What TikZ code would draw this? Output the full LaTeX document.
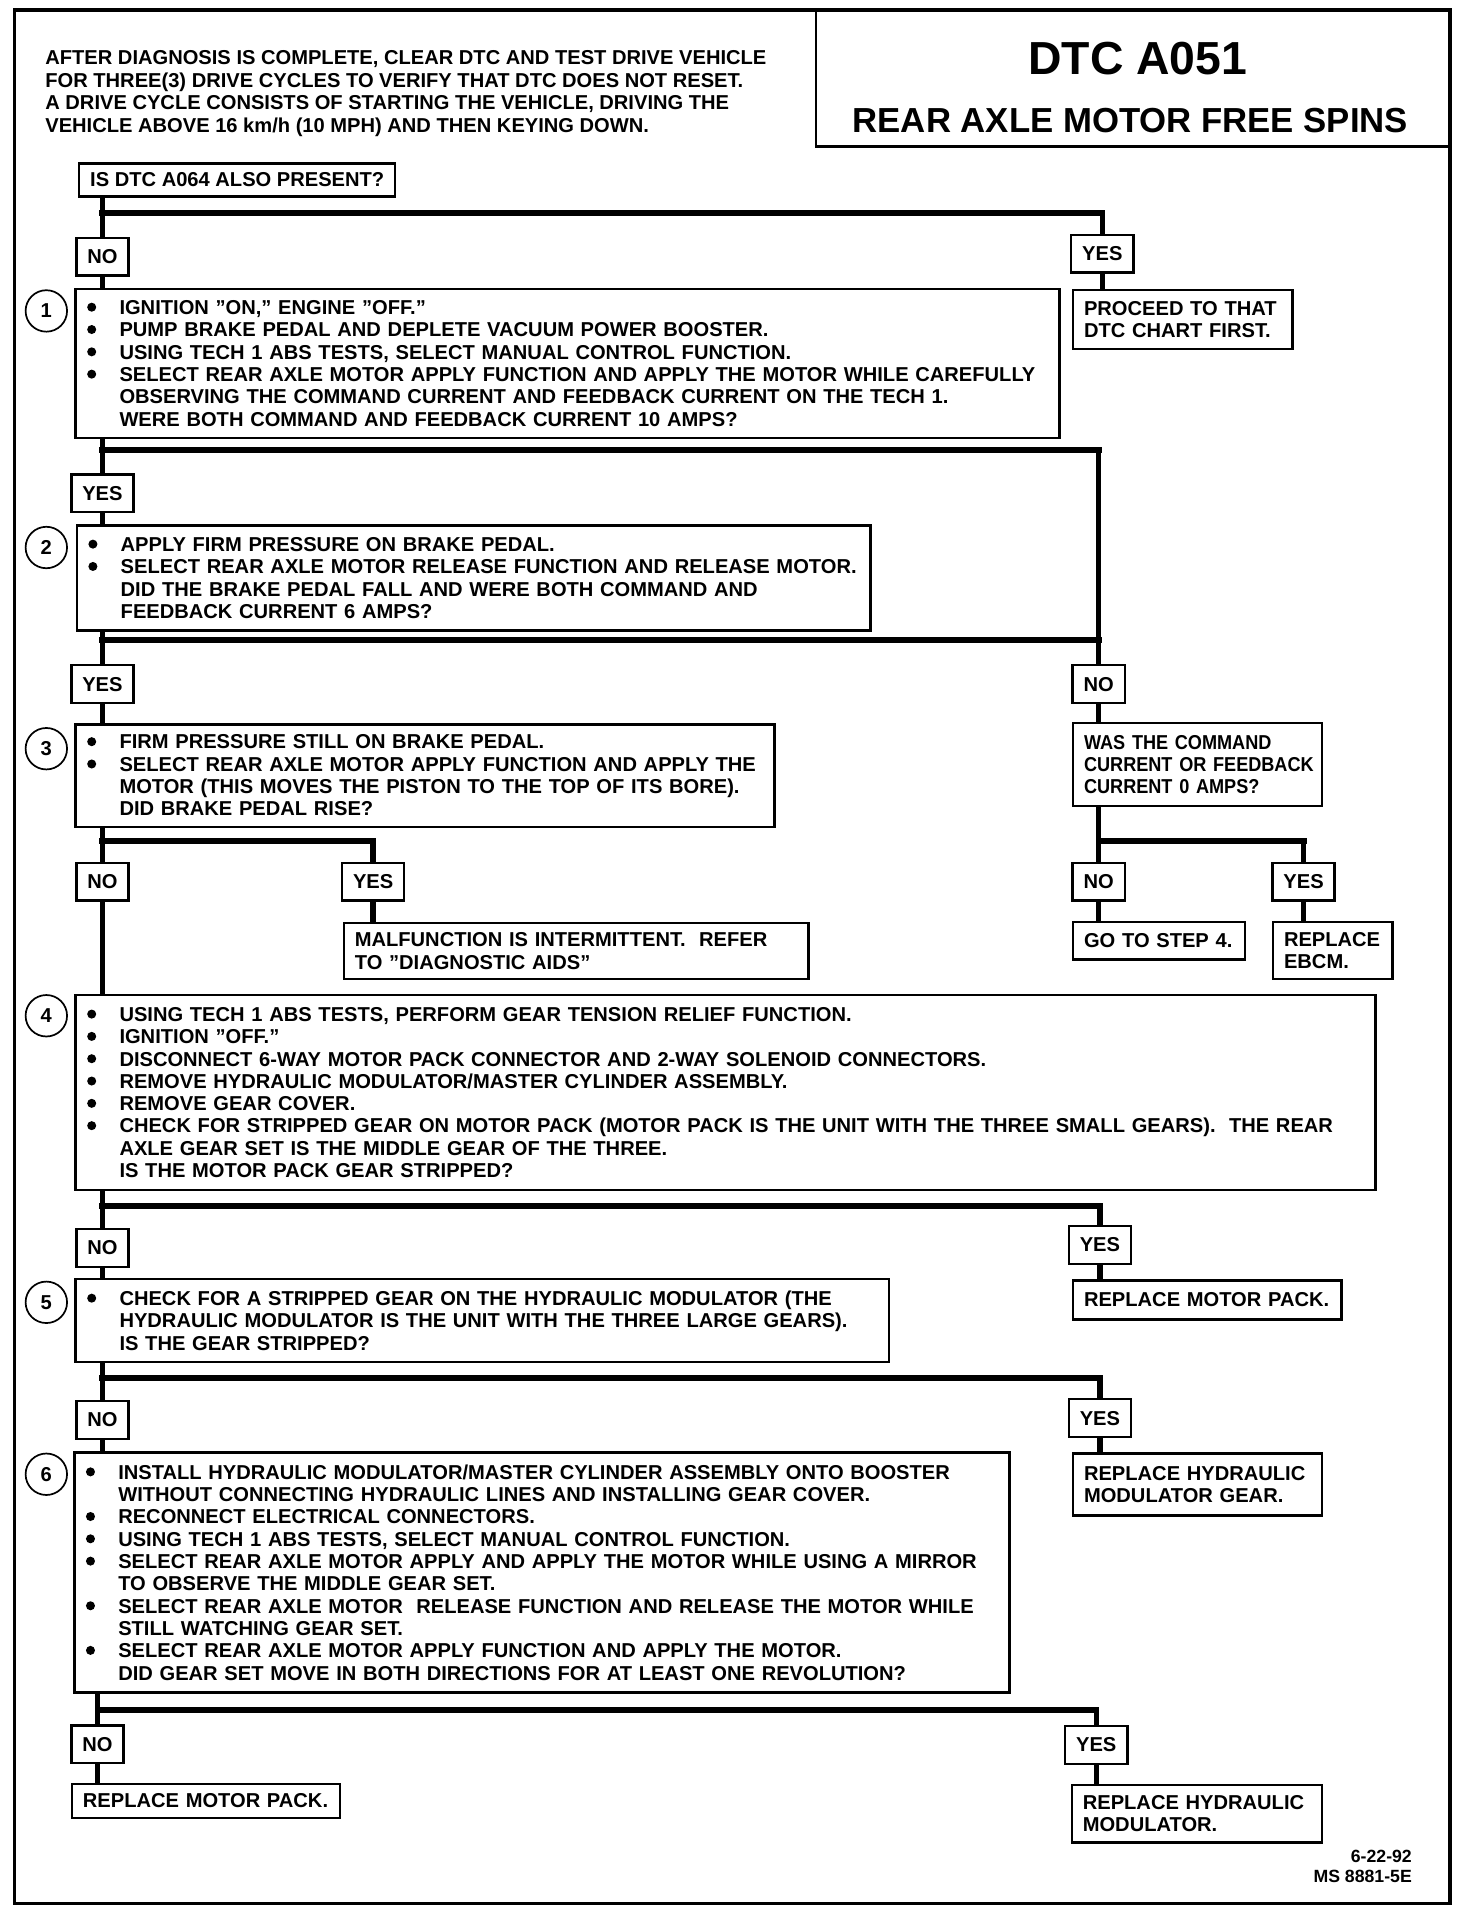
\documentclass[tikz,border=0pt]{standalone}
\usepackage{fontspec}
\setmainfont{Liberation Sans}
\newfontfamily\narrowfont[FakeStretch=0.9]{Liberation Sans Bold}
\usetikzlibrary{positioning}

% one line of a step list, with or without a bullet
\newcommand{\bul}[1]{\makebox[27pt][l]{\hspace{0.5pt}\tikz[baseline=-6pt]\fill (0,0) circle (3.7pt);}\mbox{#1}}
\newcommand{\cont}[1]{\hspace*{27pt}\mbox{#1}}

\begin{document}
\begin{tikzpicture}[
  x=1pt, y=-1pt,
  font=\bfseries\fontsize{16.5pt}{18.3pt}\selectfont,
  stepbox/.style={draw=black, line width=2pt, anchor=north west, align=left, inner xsep=9pt, inner ysep=0pt},
  ansbox/.style={draw=black, line width=2pt, minimum height=31pt, inner xsep=9pt, inner ysep=0pt},
  numcirc/.style={circle, draw=black, line width=1.4pt, minimum size=34pt, inner sep=0pt},
  trunk/.style={line width=4.5pt},
  bar/.style={line width=5pt, line cap=rect}
]
  \useasboundingbox (0,0) rectangle (1207,1568);

  % frame and title
  \draw[line width=3pt] (12,8) rectangle (1189,1561);
  \node (titlebox) [draw=black, line width=2pt, anchor=north west, minimum width=521pt, minimum height=111pt, inner sep=0pt] at (668,8) {};
  \node (dtc) [font=\bfseries\fontsize{38pt}{40pt}\selectfont] at (933,48) {DTC A051};
  \node (ttl) [font=\bfseries\fontsize{28.5pt}{30pt}\selectfont] at (927,99) {REAR AXLE MOTOR FREE SPINS};
  \node (note) [anchor=north west, align=left, inner sep=0pt, font=\bfseries\fontsize{16.5pt}{18.7pt}\selectfont] at (37,41)
    {AFTER DIAGNOSIS IS COMPLETE, CLEAR DTC AND TEST DRIVE VEHICLE\\
     FOR THREE(3) DRIVE CYCLES TO VERIFY THAT DTC DOES NOT RESET.\\
     A DRIVE CYCLE CONSISTS OF STARTING THE VEHICLE, DRIVING THE\\
     VEHICLE ABOVE 16 km/h (10 MPH) AND THEN KEYING DOWN.};

  % first question
  \node (q0) [stepbox, minimum height=27pt] at (64,133) {IS DTC A064 ALSO PRESENT?};
  \node (no0) [ansbox] at (84,210.5) {NO};
  \node (yes0) [ansbox] at (904,208) {YES};
  \node (proceed) [stepbox, text width=162pt, minimum height=48pt] at (879,237) {PROCEED TO THAT\\DTC CHART FIRST.};

  % step 1
  \node (c1) [numcirc] at (38,255) {1};
  \node (box1) [stepbox, text width=789pt, minimum height=122pt] at (61,236)
    {\bul{IGNITION "ON," ENGINE "OFF."}\\
     \bul{PUMP BRAKE PEDAL AND DEPLETE VACUUM POWER BOOSTER.}\\
     \bul{USING TECH 1 ABS TESTS, SELECT MANUAL CONTROL FUNCTION.}\\
     \bul{SELECT REAR AXLE MOTOR APPLY FUNCTION AND APPLY THE MOTOR WHILE CAREFULLY}\\
     \cont{OBSERVING THE COMMAND CURRENT AND FEEDBACK CURRENT ON THE TECH 1.}\\
     \cont{WERE BOTH COMMAND AND FEEDBACK CURRENT 10 AMPS?}};
  \node (yes1) [ansbox] at (84,404.5) {YES};

  % step 2
  \node (c2) [numcirc] at (38,449) {2};
  \node (box2) [stepbox, text width=633pt, minimum height=86pt] at (62,430)
    {\bul{APPLY FIRM PRESSURE ON BRAKE PEDAL.}\\
     \bul{SELECT REAR AXLE MOTOR RELEASE FUNCTION AND RELEASE MOTOR.}\\
     \cont{DID THE BRAKE PEDAL FALL AND WERE BOTH COMMAND AND}\\
     \cont{FEEDBACK CURRENT 6 AMPS?}};
  \node (yes2) [ansbox] at (84,561) {YES};
  \node (no2) [ansbox] at (901,561) {NO};

  % step 3
  \node (c3) [numcirc] at (38,614) {3};
  \node (box3) [stepbox, text width=555pt, minimum height=84pt] at (61,593)
    {\bul{FIRM PRESSURE STILL ON BRAKE PEDAL.}\\
     \bul{SELECT REAR AXLE MOTOR APPLY FUNCTION AND APPLY THE}\\
     \cont{MOTOR (THIS MOVES THE PISTON TO THE TOP OF ITS BORE).}\\
     \cont{DID BRAKE PEDAL RISE?}};
  \node (was) [stepbox, text width=186pt, minimum height=68pt, font=\narrowfont\fontsize{16.5pt}{18.3pt}\selectfont] at (879,592)
    {\mbox{WAS THE COMMAND}\\\mbox{CURRENT OR FEEDBACK}\\\mbox{CURRENT 0 AMPS?}};
  \node (no3) [ansbox] at (84,723) {NO};
  \node (yes3) [ansbox] at (306,723) {YES};
  \node (no3r) [ansbox] at (901,723) {NO};
  \node (yes3r) [ansbox] at (1069,723) {YES};
  \node (malf) [stepbox, text width=363pt, minimum height=46pt] at (281,756)
    {MALFUNCTION IS INTERMITTENT.\ \ REFER\\TO "DIAGNOSTIC AIDS"};
  \node (gostep) [stepbox, text width=123pt, minimum height=31pt] at (879,755) {GO TO STEP 4.};
  \node (ebcm) [stepbox, text width=80pt, minimum height=47pt] at (1043,755) {REPLACE\\EBCM.};

  % step 4
  \node (c4) [numcirc] at (38,833) {4};
  \node (box4) [stepbox, text width=1048pt, minimum height=160pt] at (61,815)
    {\bul{USING TECH 1 ABS TESTS, PERFORM GEAR TENSION RELIEF FUNCTION.}\\
     \bul{IGNITION "OFF."}\\
     \bul{DISCONNECT 6-WAY MOTOR PACK CONNECTOR AND 2-WAY SOLENOID CONNECTORS.}\\
     \bul{REMOVE HYDRAULIC MODULATOR/MASTER CYLINDER ASSEMBLY.}\\
     \bul{REMOVE GEAR COVER.}\\
     \bul{CHECK FOR STRIPPED GEAR ON MOTOR PACK (MOTOR PACK IS THE UNIT WITH THE THREE SMALL GEARS).\ \ THE REAR}\\
     \cont{AXLE GEAR SET IS THE MIDDLE GEAR OF THE THREE.}\\
     \cont{IS THE MOTOR PACK GEAR STRIPPED?}};
  \node (no4) [ansbox] at (84,1023.5) {NO};
  \node (yes4) [ansbox] at (902,1021) {YES};
  \node (repmp) [stepbox, text width=202pt, minimum height=32pt] at (879,1049) {REPLACE MOTOR PACK.};

  % step 5
  \node (c5) [numcirc] at (38,1068) {5};
  \node (box5) [stepbox, text width=649pt, minimum height=68pt] at (61,1048)
    {\bul{CHECK FOR A STRIPPED GEAR ON THE HYDRAULIC MODULATOR (THE}\\
     \cont{HYDRAULIC MODULATOR IS THE UNIT WITH THE THREE LARGE GEARS).}\\
     \cont{IS THE GEAR STRIPPED?}};
  \node (no5) [ansbox] at (84,1164.5) {NO};
  \node (yes5) [ansbox] at (902,1163) {YES};
  \node (rephmg) [stepbox, text width=186pt, minimum height=51pt] at (879,1191) {REPLACE HYDRAULIC\\MODULATOR GEAR.};

  % step 6
  \node (c6) [numcirc] at (38,1209) {6};
  \node (box6) [stepbox, text width=749pt, minimum height=197pt] at (60,1190)
    {\bul{INSTALL HYDRAULIC MODULATOR/MASTER CYLINDER ASSEMBLY ONTO BOOSTER}\\
     \cont{WITHOUT CONNECTING HYDRAULIC LINES AND INSTALLING GEAR COVER.}\\
     \bul{RECONNECT ELECTRICAL CONNECTORS.}\\
     \bul{USING TECH 1 ABS TESTS, SELECT MANUAL CONTROL FUNCTION.}\\
     \bul{SELECT REAR AXLE MOTOR APPLY AND APPLY THE MOTOR WHILE USING A MIRROR}\\
     \cont{TO OBSERVE THE MIDDLE GEAR SET.}\\
     \bul{SELECT REAR AXLE MOTOR\ \ RELEASE FUNCTION AND RELEASE THE MOTOR WHILE}\\
     \cont{STILL WATCHING GEAR SET.}\\
     \bul{SELECT REAR AXLE MOTOR APPLY FUNCTION AND APPLY THE MOTOR.}\\
     \cont{DID GEAR SET MOVE IN BOTH DIRECTIONS FOR AT LEAST ONE REVOLUTION?}};
  \node (no6) [ansbox] at (80,1430.5) {NO};
  \node (yes6) [ansbox] at (899,1431) {YES};
  \node (repmp2) [stepbox, text width=202pt, minimum height=28pt] at (58,1462) {REPLACE MOTOR PACK.};
  \node (rephm) [stepbox, text width=187pt, minimum height=47pt] at (878,1463) {REPLACE HYDRAULIC\\MODULATOR.};

  \node (stamp) [anchor=north east, align=right, inner sep=0pt, font=\bfseries\fontsize{14.5pt}{16.5pt}\selectfont] at (1158,1517) {6-22-92\\MS 8881-5E};

  % branches under the first question
  \coordinate (j0) at (84,175);
  \draw[trunk] (q0.south -| no0) -- (no0.north);
  \draw[bar] (j0) -- (j0 -| yes0);
  \draw[trunk] (j0 -| yes0) -- (yes0.north);
  \draw[trunk] (no0.south) -- (no0.south |- box1.north);
  \draw[trunk] (yes0.south) -- (yes0.south |- proceed.north);

  % steps 1 and 2
  \coordinate (j1) at (84,369);
  \coordinate (j2) at (84,525);
  \draw[trunk] (box1.south -| yes1) -- (yes1.north);
  \draw[bar] (j1) -- (j1 -| no2);
  \draw[trunk] (j1 -| no2) -- (no2.north);
  \draw[trunk] (yes1.south) -- (yes1.south |- box2.north);
  \draw[trunk] (box2.south -| yes2) -- (yes2.north);
  \draw[bar] (j2) -- (j2 -| no2);
  \draw[trunk] (yes2.south) -- (yes2.south |- box3.north);
  \draw[trunk] (no2.south) -- (no2.south |- was.north);

  % step 3 and the current check
  \coordinate (j3) at (84,690);
  \coordinate (j3r) at (901,690);
  \draw[trunk] (box3.south -| no3) -- (no3.north);
  \draw[bar] (j3) -- (j3 -| yes3);
  \draw[trunk] (j3 -| yes3) -- (yes3.north);
  \draw[trunk] (yes3.south) -- (yes3.south |- malf.north);
  \draw[trunk] (no3.south) -- (no3.south |- box4.north);
  \draw[trunk] (was.south -| no3r) -- (no3r.north);
  \draw[bar] (j3r) -- (j3r -| yes3r);
  \draw[trunk] (j3r -| yes3r) -- (yes3r.north);
  \draw[trunk] (no3r.south) -- (no3r.south |- gostep.north);
  \draw[trunk] (yes3r.south) -- (yes3r.south |- ebcm.north);

  % step 4
  \coordinate (j4) at (84,989);
  \draw[trunk] (box4.south -| no4) -- (no4.north);
  \draw[bar] (j4) -- (j4 -| yes4);
  \draw[trunk] (j4 -| yes4) -- (yes4.north);
  \draw[trunk] (no4.south) -- (no4.south |- box5.north);
  \draw[trunk] (yes4.south) -- (yes4.south |- repmp.north);

  % step 5
  \coordinate (j5) at (84,1130);
  \draw[trunk] (box5.south -| no5) -- (no5.north);
  \draw[bar] (j5) -- (j5 -| yes5);
  \draw[trunk] (j5 -| yes5) -- (yes5.north);
  \draw[trunk] (no5.south) -- (no5.south |- box6.north);
  \draw[trunk] (yes5.south) -- (yes5.south |- rephmg.north);

  % step 6
  \coordinate (j6) at (80,1402);
  \draw[trunk] (box6.south -| no6) -- (no6.north);
  \draw[bar] (j6) -- (j6 -| yes6);
  \draw[trunk] (j6 -| yes6) -- (yes6.north);
  \draw[trunk] (no6.south) -- (no6.south |- repmp2.north);
  \draw[trunk] (yes6.south) -- (yes6.south |- rephm.north);
\end{tikzpicture}
\end{document}
